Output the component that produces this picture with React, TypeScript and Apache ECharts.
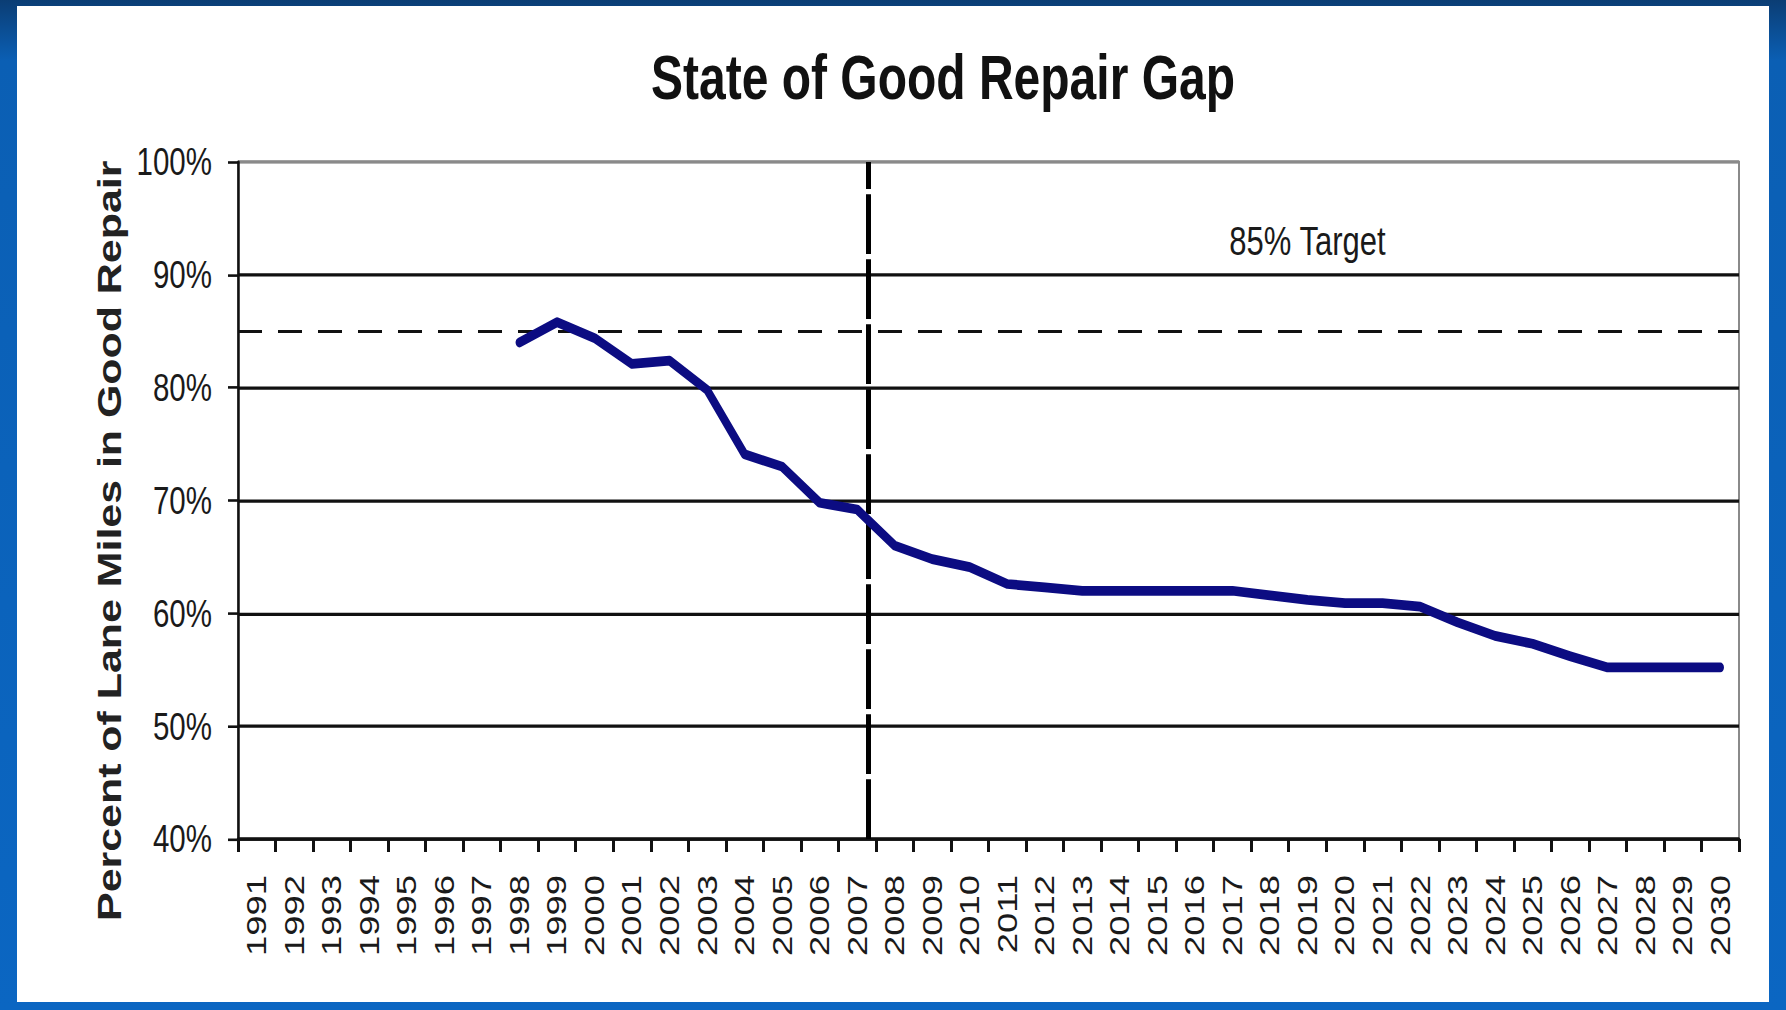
import React, { useEffect, useRef } from "react";
import * as echarts from "echarts";

// ---- data ----
const years = [
  "1991", "1992", "1993", "1994", "1995", "1996", "1997", "1998", "1999", "2000",
  "2001", "2002", "2003", "2004", "2005", "2006", "2007", "2008", "2009", "2010",
  "2011", "2012", "2013", "2014", "2015", "2016", "2017", "2018", "2019", "2020",
  "2021", "2022", "2023", "2024", "2025", "2026", "2027", "2028", "2029", "2030",
];
const goodRepairPct: (number | null)[] = [
  null, null, null, null, null, null, null, 84.0, 85.8, 84.4,
  82.1, 82.4, 79.8, 74.1, 73.0, 69.8, 69.2, 66.0, 64.8, 64.1,
  62.6, 62.3, 62.0, 62.0, 62.0, 62.0, 62.0, 61.6, 61.2, 60.9,
  60.9, 60.6, 59.2, 58.0, 57.3, 56.2, 55.2, 55.2, 55.2, 55.2,
];
const targetPct = 85;
const targetLabel = "85% Target";
const targetLabelAt: [string, number] = ["2019", 93.0];
const dividerYear = 2007.3;
const chartTitle = "State of Good Repair Gap";
const yAxisTitle = "Percent of Lane Miles in Good Repair";

// ---- layout ----
const W = 1786;
const H = 1010;
const S = 1.3; // the source picture is stretched vertically
const CH = H / S;
const py = (y: number) => y / S;
const FONT = "'Liberation Sans', Arial, Helvetica, sans-serif";

export default function App() {
  const ref = useRef<HTMLDivElement>(null);

  useEffect(() => {
    document.body.style.margin = "0";
    const chart = echarts.init(ref.current!, null, { renderer: "svg", width: W, height: CH });
    const gridColors = ["#111", "#111", "#111", "#111", "#111", "#111", "#8a8a8a"];
    chart.setOption({
      animation: false,
      textStyle: { fontFamily: FONT },
      title: {
        text: chartTitle,
        left: 938,
        top: py(71),
        textAlign: "center",
        textVerticalAlign: "middle",
        textStyle: { fontFamily: FONT, fontWeight: "bold", fontSize: 48, color: "#111" },
      },
      grid: {
        left: 238,
        top: py(162),
        width: 1501,
        height: py(839) - py(162),
        show: true,
        borderColor: "#8a8a8a",
        borderWidth: 2,
        backgroundColor: "transparent",
        containLabel: false,
        outerBoundsMode: "none",
      },
      xAxis: [
        {
          type: "category",
          data: years,
          boundaryGap: true,
          axisLine: { show: true, lineStyle: { color: "#111", width: 2.5 } },
          axisTick: { show: true, interval: 0, length: py(13), lineStyle: { color: "#111", width: 3 } },
          axisLabel: {
            interval: 0,
            rotate: 90,
            margin: py(36),
            fontSize: 28,
            color: "#1a1a1a",
            fontFamily: FONT,
          },
          splitLine: { show: false },
        },
        { type: "value", min: 1990.5, max: 2030.5, show: false },
      ],
      yAxis: {
        type: "value",
        min: 40,
        max: 100,
        interval: 10,
        name: yAxisTitle,
        nameLocation: "middle",
        nameGap: 108,
        nameRotate: 90,
        nameTextStyle: {
          fontSize: 33,
          fontWeight: "bold",
          color: "#222",
          fontFamily: FONT,
          padding: [0, 62, 0, 0],
        },
        axisLine: { show: true, lineStyle: { color: "#111", width: 2.5 } },
        axisTick: { show: true, length: 10, lineStyle: { color: "#111", width: 2 } },
        axisLabel: { formatter: "{value}%", margin: 26, fontSize: 29.5, color: "#1a1a1a", fontFamily: FONT },
        splitLine: { show: true, lineStyle: { color: gridColors, width: 2.5 } },
      },
      series: [
        {
          type: "line",
          data: goodRepairPct,
          symbol: "none",
          z: 5,
          lineStyle: { color: "#0c0c82", width: 7.5, join: "round", cap: "round" },
          markLine: {
            silent: true,
            symbol: "none",
            label: { show: false },
            lineStyle: { color: "#111", type: [24, 16], width: 2.4 },
            data: [{ yAxis: targetPct }],
          },
          markPoint: {
            silent: true,
            symbol: "circle",
            symbolSize: 0,
            itemStyle: { color: "transparent" },
            label: {
              show: true,
              position: "inside",
              formatter: targetLabel,
              fontSize: 31,
              color: "#1a1a1a",
              fontFamily: FONT,
            },
            data: [{ coord: targetLabelAt }],
          },
        },
        {
          type: "line",
          xAxisIndex: 1,
          yAxisIndex: 0,
          data: [],
          markLine: {
            silent: true,
            symbol: "none",
            label: { show: false },
            lineStyle: { color: "#000", width: 5, type: [46, 4] },
            data: [{ xAxis: dividerYear }],
          },
        },
      ],
    });
    return () => chart.dispose();
  }, []);

  return (
    <div
      style={{
        position: "relative",
        width: W,
        height: H,
        overflow: "hidden",
        background: "linear-gradient(180deg, #0b3d74 0%, #0b5fb4 6%, #0b66c2 100%)",
      }}
    >
      <div style={{ position: "absolute", left: 17, top: 6, width: 1752, height: 996, background: "#fff" }} />
      <div
        ref={ref}
        style={{
          position: "absolute",
          left: 0,
          top: 0,
          width: W,
          height: CH,
          transform: `scaleY(${S})`,
          transformOrigin: "0 0",
        }}
      />
    </div>
  );
}
